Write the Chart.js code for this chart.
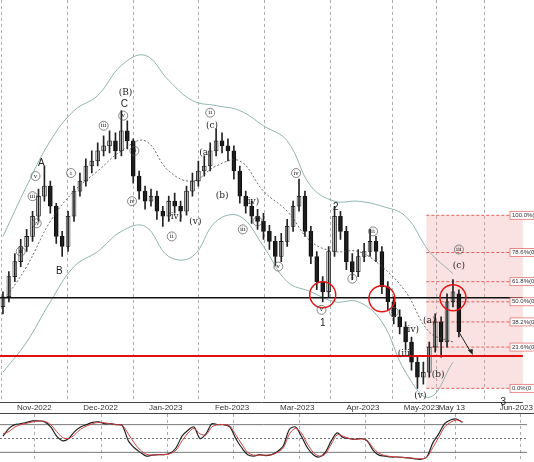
<!DOCTYPE html>
<html>
<head>
<meta charset="utf-8">
<script src="https://cdn.jsdelivr.net/npm/chart.js@4.4.0/dist/chart.umd.min.js"></script>
<style>
  body { margin: 0; background: #fff; font-family: "Liberation Sans", Arial, sans-serif; }
  #main { position: absolute; left: 0; top: 0; width: 534px; height: 414px; }
  #osc  { position: absolute; left: 0; top: 413px; width: 534px; height: 49px; border-top: 1px solid #444; }
</style>
</head>
<body>
<div id="main"><canvas id="mainChart"></canvas></div>
<div id="osc"><canvas id="oscChart"></canvas></div>
<script>
// ── Candles (one per index) ──────────────
const opens  = [95,105,125,140,155,165,185,205,215,195,165,155,185,210,220,235,240,250,255,260,250,270,260,225,210,200,205,190,185,200,195,190,210,220,230,235,250,260,255,250,230,205,195,185,180,170,160,145,160,175,195,205,170,145,120,110,150,185,170,140,130,145,150,160,150,115,100,85,75,60,40,25,30,55,80,60,100,108];
const closes = [105,125,140,155,165,185,205,215,195,165,155,185,210,220,235,240,250,255,260,250,270,260,225,210,200,205,190,185,200,195,190,210,220,230,235,250,260,255,250,230,205,195,185,180,170,160,145,160,175,195,205,170,145,120,110,150,185,170,140,130,145,150,160,150,115,100,85,75,60,40,25,30,55,80,60,100,110,70];
const highs  = [110,130,148,162,172,190,212,235,220,198,170,190,215,228,242,250,258,265,270,268,290,280,262,230,215,212,210,195,205,208,200,215,228,240,245,258,272,268,262,255,235,210,200,192,188,176,165,168,182,200,222,210,175,150,125,155,195,190,175,148,152,158,172,165,155,120,105,92,80,65,45,40,60,88,85,108,122,112];
const lows   = [88,100,120,135,150,160,180,200,188,158,145,150,180,205,215,228,235,245,248,242,245,252,218,202,192,195,182,175,180,188,180,186,205,215,225,230,245,248,240,222,198,188,178,172,162,152,135,140,155,170,190,165,138,112,100,105,145,162,132,122,125,140,145,140,108,92,78,68,52,32,14,18,25,50,45,55,95,65];

// ── Bands / moving average (every 4th index) ──
const bandIdx = [0,4,8,12,16,20,24,28,32,36,40,44,48,52,56,60,64,68,72,76];
const upperBand = [165,215,260,290,305,335,345,320,300,295,290,275,260,215,200,200,195,185,150,128];
const lowerBand = [30,60,100,135,150,170,175,145,145,180,185,155,120,110,100,100,80,30,5,40];
const midAvg    = [100,135,180,210,230,250,260,230,220,235,240,210,190,160,150,150,135,110,70,60];

// ── Oscillator ───────────────────────────
const oscFast = [55,72,80,82,85,88,88,86,75,55,45,50,65,75,80,85,86,82,82,80,78,45,30,20,12,14,15,15,18,30,55,68,75,50,60,82,80,80,75,50,30,15,12,15,13,15,22,35,70,75,55,30,15,10,20,45,62,52,50,48,50,45,25,14,12,10,10,9,8,6,5,10,40,60,82,90,92,85];
const oscSlow = [60,65,75,80,83,86,88,87,80,65,52,50,58,70,77,82,85,84,82,80,78,60,40,25,16,14,15,15,17,25,45,62,72,60,58,75,80,80,77,58,38,20,14,14,14,15,20,30,60,72,62,38,20,12,16,38,58,55,50,48,49,46,30,18,13,11,10,9,8,7,6,9,30,52,75,85,90,86];

// ── Axis ticks ───────────────────────────
const tickPos    = [5.3,16.5,27.5,38.7,49.7,60.8,70.7,75.8,86.7];
const tickLabels = ["Nov-2022","Dec-2022","Jan-2023","Feb-2023","Mar-2023","Apr-2023","May-2023","May 13","Jun-2023"];

// ── Levels ───────────────────────────────
const blackLevel = 104;
const redLevel = 46;
const fibLevels = [186,149,120,100,80,55,14];
const fibNames  = ["100.0%(0","78.6%(0","61.8%(0","50.0%(0","38.2%(0","23.6%(0","0.0%(0"];
const fibStart = 71.5;
const circles = [[54,107],[64,103],[76,104]];
const waveLabels = [
  [6.5,238,"A",0],[9.5,130,"B",0],[20.5,296,"C",0],[20.7,308,"(B)",0],
  [54,79,"1",0],[56.2,194,"2",0],[84.5,0,"3",0],
  [5.5,225,"v",1],[5,205,"iii",1],[5.7,178,"iv",1],[11.5,228,"i",1],[3,150,"ii",1],
  [17,275,"iii",1],[20.3,285,"v",1],[21.8,200,"iv",1],[22.2,250,"ii",1],
  [35,288,"ii",1],[35.3,275,"(c)",0],[34.2,248,"(a)",0],[37,206,"(b)",0],[29,185,"(iv)",0],[28.5,165,"ii",1],[32.5,180,"(v)",0],
  [49.5,228,"iv",1],[46.5,135,"v",1],[42,200,"(iv)",0],[40.5,172,"iii",1],[43,180,"i",1],
  [53.8,92,"v",1],[62.5,170,"ii",1],[59,123,"i",1],[66,90,"iv",1],[68,48,"(iii)",0],[69,72,"(iv)",0],
  [70.5,7,"(v)",0],[72,81,"(a)",0],[73.5,28,"(b)",0],[77,152,"iii",1],[77,136,"(c)",0]
];

const candles = closes.map((c, i) => ({ o: opens[i], h: highs[i], l: lows[i], c }));
const up = i => closes[i] >= opens[i];

const overlayPlugin = {
  id: "overlay",
  beforeDatasetsDraw(chart) {
    const { ctx, chartArea: a, scales: { x, y } } = chart;
    ctx.save();
    const x0 = x.getPixelForValue(fibStart);
    ctx.fillStyle = "rgba(240,150,150,0.28)";
    ctx.fillRect(x0, y.getPixelForValue(fibLevels[0]), a.right - x0, y.getPixelForValue(14) - y.getPixelForValue(fibLevels[0]));
    ctx.setLineDash([3, 2]);
    ctx.strokeStyle = "#e06060";
    ctx.lineWidth = 1;
    fibLevels.forEach(v => {
      const py = y.getPixelForValue(v);
      ctx.beginPath(); ctx.moveTo(x0, py); ctx.lineTo(a.right, py); ctx.stroke();
    });
    ctx.setLineDash([]);
    ctx.restore();
  },
  afterDatasetsDraw(chart) {
    const { ctx, chartArea: a, scales: { x, y } } = chart;
    ctx.save();
    // horizontal levels
    ctx.strokeStyle = "#111"; ctx.lineWidth = 1.5;
    let py = y.getPixelForValue(blackLevel);
    ctx.beginPath(); ctx.moveTo(a.left, py); ctx.lineTo(a.right, py); ctx.stroke();
    ctx.strokeStyle = "#e01010"; ctx.lineWidth = 2;
    py = y.getPixelForValue(redLevel);
    ctx.beginPath(); ctx.moveTo(a.left, py); ctx.lineTo(a.right, py); ctx.stroke();
    // fib labels
    ctx.font = "6px 'Liberation Sans'";
    ctx.textBaseline = "middle";
    fibLevels.forEach((v, k) => {
      const ly = y.getPixelForValue(v);
      ctx.fillStyle = "#fff";
      ctx.fillRect(510, ly - 4, 30, 8);
      ctx.strokeStyle = "#e06060"; ctx.lineWidth = 0.7;
      ctx.strokeRect(510, ly - 4, 30, 8);
      ctx.fillStyle = "#333";
      ctx.fillText(fibNames[k], 512, ly);
    });
    // red circles
    ctx.strokeStyle = "#e01818"; ctx.lineWidth = 1.5;
    circles.forEach(([i, v]) => {
      ctx.beginPath();
      ctx.arc(x.getPixelForValue(i), y.getPixelForValue(v), 13, 0, Math.PI * 2);
      ctx.stroke();
    });
    // projection arrow
    ctx.strokeStyle = "#222"; ctx.lineWidth = 1;
    const ax0 = x.getPixelForValue(77), ay0 = y.getPixelForValue(70);
    const ax1 = x.getPixelForValue(79), ay1 = y.getPixelForValue(50);
    ctx.beginPath(); ctx.moveTo(ax0, ay0); ctx.lineTo(ax1, ay1); ctx.stroke();
    ctx.fillStyle = "#222";
    ctx.beginPath(); ctx.moveTo(ax1 + 2, ay1 + 3); ctx.lineTo(ax1 - 3, ay1 - 2); ctx.lineTo(ax1 + 2, ay1 - 3); ctx.fill();
    // wave labels
    ctx.textAlign = "center";
    waveLabels.forEach(([i, v, t, c]) => {
      const lx = x.getPixelForValue(i), ly = y.getPixelForValue(v);
      ctx.fillStyle = "#222";
      if (c) {
        ctx.font = "6px 'DejaVu Serif'";
        ctx.strokeStyle = "#555"; ctx.lineWidth = 0.7;
        ctx.beginPath(); ctx.arc(lx, ly, 4.5, 0, Math.PI * 2); ctx.stroke();
        ctx.fillText(t, lx, ly);
      } else {
        ctx.font = t.length === 1 ? "10px 'Liberation Sans'" : "9px 'DejaVu Serif'";
        ctx.fillText(t, lx, ly);
      }
    });
    ctx.restore();
  }
};

const xScale = (showTicks) => ({
  type: "linear", min: -0.5, max: 87.8, offset: false,
  afterBuildTicks: s => { s.ticks = tickPos.map(v => ({ value: v })); },
  ticks: {
    display: showTicks,
    font: { size: 8, family: "Liberation Sans" }, color: "#333", padding: 1, maxRotation: 0,
    callback: (v) => tickLabels[tickPos.indexOf(v)]
  },
  grid: { color: "#999", lineWidth: 0.8, drawTicks: false },
  border: { display: showTicks, color: "#444", dash: [3, 3] }
});

new Chart(document.getElementById("mainChart"), {
  type: "bar",
  data: {
    datasets: [
      { type: "line", data: bandIdx.map((i, k) => ({ x: i, y: upperBand[k] })), borderColor: "#8fb5b0", borderWidth: 1, pointRadius: 0, tension: 0.4 },
      { type: "line", data: bandIdx.map((i, k) => ({ x: i, y: lowerBand[k] })), borderColor: "#8fb5b0", borderWidth: 1, pointRadius: 0, tension: 0.4 },
      { type: "line", data: bandIdx.map((i, k) => ({ x: i, y: midAvg[k] })), borderColor: "#444", borderWidth: 0.8, borderDash: [2, 2], pointRadius: 0, tension: 0.4 },
      { data: candles.map((d, i) => ({ x: i, y: [d.l, d.h] })), backgroundColor: "#222", barThickness: 1, grouped: false },
      { data: candles.map((d, i) => ({ x: i, y: [Math.min(d.o, d.c), Math.max(d.o, d.c)] })),
        backgroundColor: c => up(c.dataIndex) ? "#fff" : "#111", borderColor: "#111", borderWidth: 0.8, borderSkipped: false,
        barThickness: 4, grouped: false }
    ]
  },
  options: {
    responsive: true, maintainAspectRatio: false, animation: false,
    layout: { padding: 0 },
    plugins: { legend: { display: false }, tooltip: { enabled: false } },
    scales: {
      x: xScale(true),
      y: { display: false, min: 0, max: 400 }
    }
  },
  plugins: [overlayPlugin]
});

new Chart(document.getElementById("oscChart"), {
  type: "line",
  data: {
    datasets: [
      { data: oscSlow.map((v, i) => ({ x: i, y: v })), borderColor: "#d04040", borderWidth: 1, pointRadius: 0, tension: 0.3 },
      { data: oscFast.map((v, i) => ({ x: i, y: v })), borderColor: "#222", borderWidth: 1.2, pointRadius: 0, tension: 0.3 }
    ]
  },
  options: {
    responsive: true, maintainAspectRatio: false, animation: false,
    layout: { padding: { right: 7 } },
    plugins: { legend: { display: false }, tooltip: { enabled: false } },
    scales: {
      x: xScale(false),
      y: { display: false, min: -3, max: 103 }
    }
  },
  plugins: [{
    id: "oscLevels",
    beforeDatasetsDraw(chart) {
      const { ctx, chartArea: a, scales: { y } } = chart;
      ctx.save();
      [[80, []], [20, []], [50, [2, 2]]].forEach(([v, d]) => {
        ctx.setLineDash(d); ctx.strokeStyle = "#555"; ctx.lineWidth = 0.8;
        const py = y.getPixelForValue(v);
        ctx.beginPath(); ctx.moveTo(a.left, py); ctx.lineTo(a.right, py); ctx.stroke();
      });
      ctx.restore();
    }
  }]
});
</script>
</body>
</html>
